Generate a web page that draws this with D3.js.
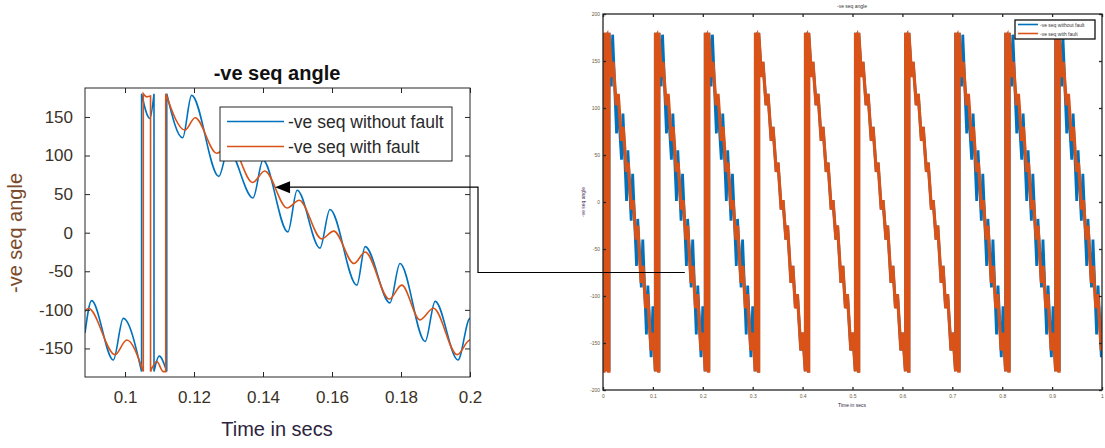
<!DOCTYPE html>
<html>
<head>
<meta charset="utf-8">
<script src="https://cdn.jsdelivr.net/npm/d3@7/dist/d3.min.js"></script>
<style>
  body { margin: 0; background: #fff; }
  svg { display: block; font-family: "Liberation Sans", Arial, sans-serif; }
</style>
</head>
<body>
<div id="chart"></div>
<script>
/* =====================================================
   DATA  [time s, angle deg]
===================================================== */
const noFault = [
  [0.0884, -130], [0.0903, -88], [0.0966, -165], [0.0995, -111], [0.1048, -180],
  [0.1048, 180], [0.1072, 148], [0.1084, 180],
  [0.1084, -180], [0.1099, -160], [0.1121, -180],
  [0.1121, 180], [0.1167, 123], [0.1193, 178], [0.1272, 73], [0.1299, 108],
  [0.1371, 45], [0.1400, 94], [0.1472, 1], [0.1499, 55], [0.1565, -20],
  [0.1594, 30], [0.1672, -68], [0.1696, -18], [0.1768, -91], [0.1797, -40],
  [0.1870, -141], [0.1899, -89], [0.1965, -165], [0.2000, -111], [0.2048, -180]
];
const withFault = [
  [0.0884, -102], [0.0894, -98], [0.0971, -158], [0.1005, -139], [0.1053, -180],
  [0.1053, 180], [0.1063, 176], [0.1074, 177],
  [0.1074, -180], [0.1092, -167], [0.1111, -180], [0.1118, -180],
  [0.1118, 180], [0.1174, 133], [0.1203, 149], [0.1266, 103], [0.1305, 115],
  [0.1370, 65], [0.1405, 80], [0.1470, 32], [0.1505, 42], [0.1570, -8],
  [0.1605, 2], [0.1664, -40], [0.1696, -25], [0.1766, -86], [0.1802, -68],
  [0.1855, -113], [0.1894, -98], [0.1963, -158], [0.2000, -139], [0.2053, -180]
];

// full run view: times where each cycle wraps from -180 to 180
const wrapTimes = [0.0048, 0.1048, 0.2048, 0.3050, 0.4052, 0.5055, 0.6060, 0.7065, 0.8068, 0.9070];
// cycles where the no-fault ripple shows beside the fault trace
const blueVisible = [true, true, true, false, false, false, false, true, true, true];
const leadNoFault = [[0, 0], [0.0048, -180]];
const leadFault = [[0, 180], [0.002, -180], [0.0053, -180]];

const leftXTicks = [0.1, 0.12, 0.14, 0.16, 0.18, 0.2];
const leftYTicks = [-150, -100, -50, 0, 50, 100, 150];
const rightXTicks = [0, 0.1, 0.2, 0.3, 0.4, 0.5, 0.6, 0.7, 0.8, 0.9, 1];
const rightYTicks = [-200, -150, -100, -50, 0, 50, 100, 150, 200];
const legendLabels = ['-ve seq without fault', '-ve seq with fault'];

const BLUE = '#0072BD';
const ORANGE = '#D95319';
const INK = '#262626';

/* =====================================================
   SVG + SCALES
===================================================== */
const W = 1105, H = 448;
const svg = d3.select('#chart').append('svg').attr('width', W).attr('height', H);
svg.append('rect').attr('width', W).attr('height', H).attr('fill', '#fff');

const L = { x0: 85, x1: 470, y0: 88, y1: 377 };
const R = { x0: 603, x1: 1102, y0: 14, y1: 390 };

const lx = d3.scaleLinear().domain([0.0884, 0.2]).range([L.x0, L.x1]);
const ly = d3.scaleLinear().domain([-187, 187.5]).range([L.y1, L.y0]);
const rx = d3.scaleLinear().domain([0, 1]).range([R.x0, R.x1]);
const ry = d3.scaleLinear().domain([-200, 200]).range([R.y1, R.y0]);

const defs = svg.append('defs');
defs.append('clipPath').attr('id', 'clipL').append('rect')
  .attr('x', L.x0).attr('y', L.y0).attr('width', L.x1 - L.x0).attr('height', L.y1 - L.y0);
defs.append('clipPath').attr('id', 'clipR').append('rect')
  .attr('x', R.x0).attr('y', R.y0).attr('width', R.x1 - R.x0).attr('height', R.y1 - R.y0);

/* =====================================================
   HELPERS
===================================================== */
// split a wrapped-angle trace at the jumps, draw smooth pieces joined by vertical lines
function wrappedPath(pts, xs, ys, curve) {
  const segs = [[pts[0]]];
  for (let i = 1; i < pts.length; i++) {
    const p = pts[i], q = pts[i - 1];
    if (p[0] === q[0] && Math.abs(p[1] - q[1]) > 300) segs.push([p]);
    else segs[segs.length - 1].push(p);
  }
  const line = d3.line().x((d) => xs(d[0])).y((d) => ys(d[1])).curve(curve);
  return segs
    .map((s, i) => {
      const d = s.length > 1 ? line(s) : `M${xs(s[0][0])},${ys(s[0][1])}`;
      return i ? d.replace(/^M/, 'L') : d;
    })
    .join('');
}

function drawFrame(g, box, xs, ys, xt, yt, opt) {
  const size = opt.tick;
  g.append('g').attr('transform', `translate(0,${box.y1})`)
    .call(d3.axisBottom(xs).tickValues(xt).tickSizeInner(-size).tickSizeOuter(0)
      .tickPadding(opt.padX).tickFormat(opt.fx));
  g.append('g').attr('transform', `translate(0,${box.y0})`)
    .call(d3.axisTop(xs).tickValues(xt).tickSizeInner(-size).tickSizeOuter(0).tickFormat(''));
  g.append('g').attr('transform', `translate(${box.x0},0)`)
    .call(d3.axisLeft(ys).tickValues(yt).tickSizeInner(-size).tickSizeOuter(0)
      .tickPadding(opt.padY).tickFormat((d) => String(d)));
  g.append('g').attr('transform', `translate(${box.x1},0)`)
    .call(d3.axisRight(ys).tickValues(yt).tickSizeInner(-size).tickSizeOuter(0).tickFormat(''));
  g.selectAll('.domain').remove();
  g.selectAll('.tick line').attr('stroke', INK).attr('stroke-width', opt.sw);
  g.selectAll('.tick text').attr('fill', opt.labelColor).attr('font-size', opt.font)
    .attr('font-family', '"Liberation Sans", Arial, sans-serif');
  g.append('rect')
    .attr('x', box.x0).attr('y', box.y0)
    .attr('width', box.x1 - box.x0).attr('height', box.y1 - box.y0)
    .attr('fill', 'none').attr('stroke', INK).attr('stroke-width', opt.sw);
}

/* =====================================================
   LEFT: zoomed view
===================================================== */
const gl = svg.append('g');
const plotL = gl.append('g').attr('clip-path', 'url(#clipL)');
plotL.append('path')
  .attr('d', wrappedPath(noFault, lx, ly, d3.curveMonotoneX))
  .attr('fill', 'none').attr('stroke', BLUE).attr('stroke-width', 1.6);
plotL.append('path')
  .attr('d', wrappedPath(withFault, lx, ly, d3.curveMonotoneX))
  .attr('fill', 'none').attr('stroke', ORANGE).attr('stroke-width', 1.6);

drawFrame(gl, L, lx, ly, leftXTicks, leftYTicks, {
  tick: 5, padX: 14, padY: 12, sw: 1, font: 17, labelColor: '#3a3226',
  fx: (d) => String(+d.toFixed(2)),
});

gl.append('text').attr('x', 277).attr('y', 80).attr('text-anchor', 'middle')
  .attr('font-size', 20).attr('font-weight', 'bold').attr('fill', '#111').text('-ve seq angle');
gl.append('text').attr('x', 277).attr('y', 436).attr('text-anchor', 'middle')
  .attr('font-size', 20).attr('fill', '#2c2440').text('Time in secs');
gl.append('text').attr('transform', 'translate(22,233) rotate(-90)').attr('text-anchor', 'middle')
  .attr('font-size', 20).attr('fill', '#7a4a2a').text('-ve seq angle');

// legend
const lg = gl.append('g');
lg.append('rect').attr('x', 220).attr('y', 107).attr('width', 232).attr('height', 54)
  .attr('fill', '#fff').attr('stroke', INK).attr('stroke-width', 1);
[BLUE, ORANGE].forEach((c, i) => {
  const y = 121.5 + i * 25;
  lg.append('line').attr('x1', 227).attr('x2', 284).attr('y1', y).attr('y2', y)
    .attr('stroke', c).attr('stroke-width', 1.6);
  lg.append('text').attr('x', 288).attr('y', y + 6).attr('font-size', 17.5)
    .attr('fill', '#2a2a2a').text(legendLabels[i]);
});

/* =====================================================
   RIGHT: full run
===================================================== */
const gr = svg.append('g');
const plotR = gr.append('g').attr('clip-path', 'url(#clipR)');
const tplNoFault = noFault.filter((p) => p[0] >= 0.1048);
const tplFault = withFault.filter((p) => p[0] >= 0.1053);

function cycles(kind) {
  const out = [kind === 'nf' ? leadNoFault : leadFault];
  wrapTimes.forEach((w, k) => {
    const s = w - 0.1048;
    const src = kind === 'nf' && blueVisible[k] ? tplNoFault : tplFault;
    out.push(src.map((p) => [p[0] + s, p[1]]));
  });
  return out;
}
cycles('nf').forEach((pts) => {
  plotR.append('path').attr('d', wrappedPath(pts, rx, ry, d3.curveLinear))
    .attr('fill', 'none').attr('stroke', BLUE).attr('stroke-width', 2.8);
});
cycles('f').forEach((pts) => {
  plotR.append('path').attr('d', wrappedPath(pts, rx, ry, d3.curveLinear))
    .attr('fill', 'none').attr('stroke', ORANGE).attr('stroke-width', 3.2);
});

drawFrame(gr, R, rx, ry, rightXTicks, rightYTicks, {
  tick: 3, padX: 4, padY: 3, sw: 1.3, font: 5, labelColor: '#6a5a3a',
  fx: (d) => String(+d.toFixed(1)),
});

gr.append('text').attr('x', 852).attr('y', 8).attr('text-anchor', 'middle')
  .attr('font-size', 5).attr('fill', '#333').text('-ve seq angle');
gr.append('text').attr('x', 852).attr('y', 407).attr('text-anchor', 'middle')
  .attr('font-size', 5).attr('fill', '#2c2440').text('Time in secs');
gr.append('text').attr('transform', 'translate(585,202) rotate(-90)').attr('text-anchor', 'middle')
  .attr('font-size', 5).attr('fill', '#4a2a5a').text('-ve seq angle');

const rg = gr.append('g');
rg.append('rect').attr('x', 1015).attr('y', 20).attr('width', 80).attr('height', 19)
  .attr('fill', '#fff').attr('stroke', '#111').attr('stroke-width', 1.3);
[BLUE, ORANGE].forEach((c, i) => {
  const y = 24.5 + i * 9;
  rg.append('line').attr('x1', 1018).attr('x2', 1038).attr('y1', y).attr('y2', y)
    .attr('stroke', c).attr('stroke-width', 1.6);
  rg.append('text').attr('x', 1040).attr('y', y + 2).attr('font-size', 5)
    .attr('fill', '#333').text(legendLabels[i]);
});

/* =====================================================
   CALLOUT ARROW (right trace -> left zoom)
===================================================== */
const arrowFrom = [0.164, -75];   // point on the full run
const arrowTo = [0.1435, 59];     // matching point in the zoom
const elbowX = 478;
const fx = rx(arrowFrom[0]), fy = ry(arrowFrom[1]);
const tx = lx(arrowTo[0]), ty = ly(arrowTo[1]);
svg.append('path')
  .attr('d', `M${fx},${fy}H${elbowX}V${ty}H${tx + 14}`)
  .attr('fill', 'none').attr('stroke', '#000').attr('stroke-width', 1.2);
svg.append('path')
  .attr('d', `M${tx},${ty}L${tx + 15},${ty - 6}L${tx + 15},${ty + 6}Z`)
  .attr('fill', '#000');
</script>
</body>
</html>
